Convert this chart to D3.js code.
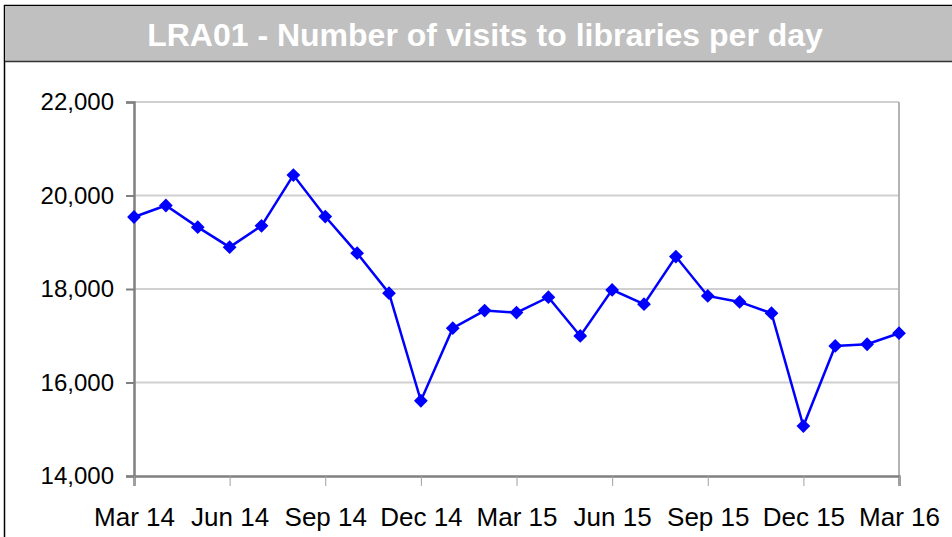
<!DOCTYPE html>
<html>
<head>
<meta charset="utf-8">
<script src="https://cdn.jsdelivr.net/npm/d3@7"></script>
<style>
    body { margin: 0; background: #fff; }
    svg { display: block; font-family: "Liberation Sans", Arial, sans-serif; }
</style>
</head>
<body>
<div id="chart"></div>
<script>
// monthly values, Mar 14 .. Mar 16
const months = ["Mar 14", "Apr 14", "May 14", "Jun 14", "Jul 14", "Aug 14", "Sep 14", "Oct 14", "Nov 14",
    "Dec 14", "Jan 15", "Feb 15", "Mar 15", "Apr 15", "May 15", "Jun 15", "Jul 15", "Aug 15", "Sep 15",
    "Oct 15", "Nov 15", "Dec 15", "Jan 16", "Feb 16", "Mar 16"];
const visits = [19540, 19786, 19323, 18895, 19351, 20437, 19550, 18767, 17910,
    15610, 17161, 17538, 17495, 17824, 16996, 17981, 17675, 18694, 17852,
    17724, 17482, 15069, 16782, 16818, 17054];
const yTicks = [14000, 16000, 18000, 20000, 22000];
const xTickLabels = ["Mar 14", "Jun 14", "Sep 14", "Dec 14", "Mar 15", "Jun 15", "Sep 15", "Dec 15", "Mar 16"];
const title = "LRA01 - Number of visits to libraries per day";

const width = 952, height = 537;
const plot = {left: 134, right: 899, top: 102, bottom: 476};

const svg = d3.select("#chart")
    .append("svg")
    .attr("width", width)
    .attr("height", height);

// outer frame + title bar
svg.append("rect")
    .attr("x", 4.5).attr("y", 5.5)
    .attr("width", width + 10).attr("height", height + 10)
    .attr("fill", "#fff")
    .attr("stroke", "#000").attr("stroke-width", 1.5);

svg.append("rect")
    .attr("x", 5).attr("y", 6)
    .attr("width", width).attr("height", 55)
    .attr("fill", "#c0c0c0");

svg.append("line")
    .attr("x1", 5).attr("x2", width)
    .attr("y1", 61.5).attr("y2", 61.5)
    .attr("stroke", "#333").attr("stroke-width", 1.5);

svg.append("text")
    .attr("x", 485).attr("y", 46)
    .attr("text-anchor", "middle")
    .attr("fill", "#fff")
    .attr("font-weight", "bold")
    .attr("font-size", 32)
    .text(title);

const x = d3.scalePoint()
    .domain(months)
    .range([plot.left, plot.right]);

const y = d3.scaleLinear()
    .domain([14000, 22000])
    .range([plot.bottom, plot.top]);

// gridlines
svg.append("g")
    .selectAll("line")
    .data(yTicks.slice(1))
    .enter()
    .append("line")
    .attr("x1", plot.left).attr("x2", plot.right)
    .attr("y1", d => y(d)).attr("y2", d => y(d))
    .attr("stroke", "#d0d0d0").attr("stroke-width", 2);

// right border of plot area
svg.append("line")
    .attr("x1", plot.right).attr("x2", plot.right)
    .attr("y1", plot.top).attr("y2", plot.bottom)
    .attr("stroke", "#b4b4b4").attr("stroke-width", 2);

// y axis
const yAxis = svg.append("g")
    .attr("transform", "translate(" + plot.left + ",0)")
    .call(d3.axisLeft(y)
        .tickValues(yTicks)
        .tickSize(8)
        .tickPadding(12)
        .tickFormat(d3.format(",")));

yAxis.select(".domain").attr("stroke", "#808080").attr("stroke-width", 2.5);
yAxis.selectAll(".tick line").attr("stroke", "#808080").attr("stroke-width", 2);
yAxis.selectAll(".tick text")
    .attr("font-size", 24)
    .attr("font-family", "Liberation Sans, Arial, sans-serif")
    .attr("fill", "#000");

// x axis
const xAxis = svg.append("g")
    .attr("transform", "translate(0," + plot.bottom + ")")
    .call(d3.axisBottom(x)
        .tickValues(xTickLabels)
        .tickSize(10)
        .tickPadding(22));

xAxis.select(".domain").attr("stroke", "#808080").attr("stroke-width", 2.5);
xAxis.selectAll(".tick line").attr("stroke", "#a0a0a0").attr("stroke-width", 1);
xAxis.selectAll(".tick text")
    .attr("font-size", 26)
    .attr("font-family", "Liberation Sans, Arial, sans-serif")
    .attr("fill", "#000");

// series
const line = d3.line()
    .x((d, i) => x(months[i]))
    .y(d => y(d));

svg.append("path")
    .datum(visits)
    .attr("d", line)
    .attr("fill", "none")
    .attr("stroke", "#0000ff")
    .attr("stroke-width", 2.5);

const marker = d3.symbol().type(d3.symbolSquare).size(95);

svg.append("g")
    .selectAll("path")
    .data(visits)
    .enter()
    .append("path")
    .attr("d", marker)
    .attr("transform", (d, i) => "translate(" + x(months[i]) + "," + y(d) + ") rotate(45)")
    .attr("fill", "#0000ff");
</script>
</body>
</html>
